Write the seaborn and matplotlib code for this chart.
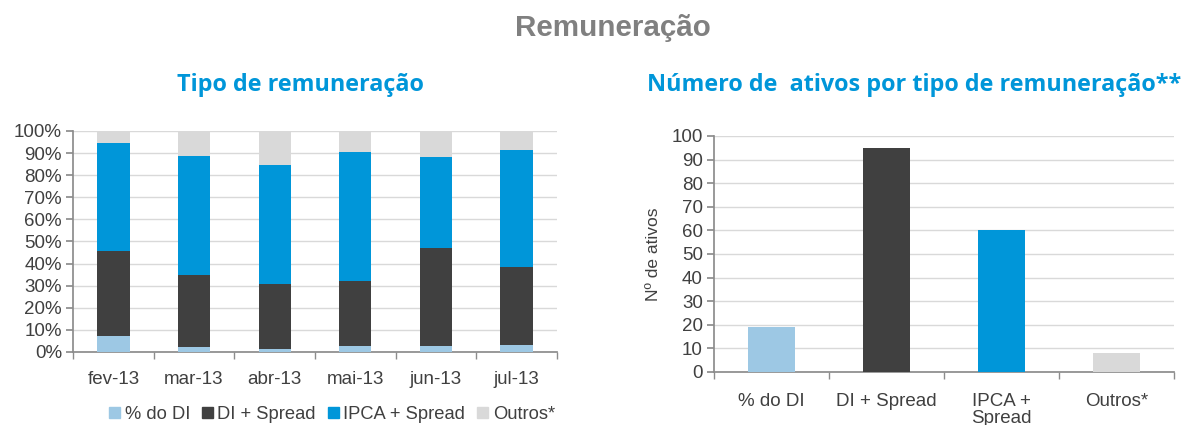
import pandas as pd
import numpy as np
import matplotlib
matplotlib.use('Agg')
import matplotlib.pyplot as plt
import seaborn as sns
from matplotlib.patches import Patch

months = ['fev-13', 'mar-13', 'abr-13', 'mai-13', 'jun-13', 'jul-13']
pct_di = [7, 2, 1.5, 2.5, 2.5, 3]
di_spread = [38.5, 33, 29, 29.5, 44.5, 35.5]
ipca_spread = [49, 53.5, 54, 58.5, 41, 53]
outros = [5.5, 11.5, 15.5, 9.5, 12, 8.5]

tipos = ['% do DI', 'DI + Spread', 'IPCA +\nSpread', 'Outros*']
n_ativos = [19, 95, 60, 8]

series_names = ['% do DI', 'DI + Spread', 'IPCA + Spread', 'Outros*']
colors = ['#9DC8E4', '#404040', '#0096D9', '#D9D9D9']

sns.set_theme(style='white')
plt.rcParams['font.family'] = ['Liberation Sans', 'DejaVu Sans']
txt = '#404040'
spine_c = '#8C8C8C'

fig = plt.figure(figsize=(11.86, 4.25), dpi=100)
ax1 = fig.add_axes([0.0616, 0.172, 0.408, 0.520])
ax2 = fig.add_axes([0.602, 0.125, 0.388, 0.555])

# stacked bars: draw cumulative totals from top layer down
df = pd.DataFrame({'mes': months, 's0': pct_di, 's1': di_spread, 's2': ipca_spread, 's3': outros})
cum = df[['s0', 's1', 's2', 's3']].cumsum(axis=1)
for i in [3, 2, 1, 0]:
    sns.barplot(x=df['mes'], y=cum.iloc[:, i], color=colors[i], width=0.4,
                saturation=1, ax=ax1, zorder=3, edgecolor='none')

ax1.set_ylim(0, 100)
ax1.set_yticks(np.arange(0, 101, 10))
ax1.set_yticklabels([f'{v}%' for v in range(0, 101, 10)])
ax1.set_xlim(-0.5, 5.5)
ax1.set_xlabel('')
ax1.set_ylabel('')
ax1.yaxis.grid(True, color='#D9D9D9', lw=1, zorder=0)
for s in ['top', 'right']:
    ax1.spines[s].set_visible(False)
for s in ['left', 'bottom']:
    ax1.spines[s].set_color(spine_c)
ax1.set_xticks(np.arange(-0.5, 6, 1), minor=True)
ax1.tick_params(axis='x', which='major', length=0, pad=14, labelsize=13.5, labelcolor=txt)
ax1.tick_params(axis='x', which='minor', length=5, color=spine_c, direction='out', bottom=True)
ax1.tick_params(axis='y', length=5, color=spine_c, left=True, labelsize=13.5, labelcolor=txt, pad=3)

handles = [Patch(color=c, label=n) for c, n in zip(colors, series_names)]
ax1.legend(handles=handles, loc='upper center', bbox_to_anchor=(0.535, -0.17), ncol=4, frameon=False,
           fontsize=13.2, handlelength=0.6, handleheight=0.6, handletextpad=0.25, columnspacing=0.65,
           labelcolor=txt)

# right chart
df2 = pd.DataFrame({'tipo': tipos, 'n': n_ativos})
sns.barplot(data=df2, x='tipo', y='n', hue='tipo', palette=colors, width=0.41, saturation=1,
            ax=ax2, legend=False, zorder=3, edgecolor='none')
ax2.set_ylim(0, 100)
ax2.set_yticks(np.arange(0, 101, 10))
ax2.set_xlim(-0.5, 3.5)
ax2.set_xlabel('')
ax2.set_ylabel('Nº de ativos', fontsize=12.5, color=txt)
ax2.yaxis.set_label_coords(-0.115, 0.5)
ax2.yaxis.grid(True, color='#D9D9D9', lw=1, zorder=0)
for s in ['top', 'right']:
    ax2.spines[s].set_visible(False)
for s in ['left', 'bottom']:
    ax2.spines[s].set_color(spine_c)
ax2.set_xticks(np.arange(-0.5, 4, 1), minor=True)
ax2.tick_params(axis='x', which='major', length=0, pad=15, labelsize=13.5, labelcolor=txt)
ax2.tick_params(axis='x', which='minor', length=5, color=spine_c, direction='out', bottom=True)
ax2.tick_params(axis='y', length=5, color=spine_c, left=True, labelsize=13.5, labelcolor=txt, pad=3)
for lbl in ax2.get_xticklabels():
    lbl.set_linespacing(1.0)

fig.text(0.517, 0.934, 'Remuneração', ha='center', va='center', fontsize=21.3, fontweight='bold', color='#808080')
fig.text(0.253, 0.786, 'Tipo de remuneração', ha='center', va='baseline', fontsize=16.8, fontweight='bold',
         color='#0096D9', family=['Open Sans', 'DejaVu Sans'])
fig.text(0.771, 0.786, 'Número de  ativos por tipo de remuneração**', ha='center', va='baseline', fontsize=16.8,
         fontweight='bold', color='#0096D9', family=['Open Sans', 'DejaVu Sans'])

fig.savefig('out.png', dpi=100)
